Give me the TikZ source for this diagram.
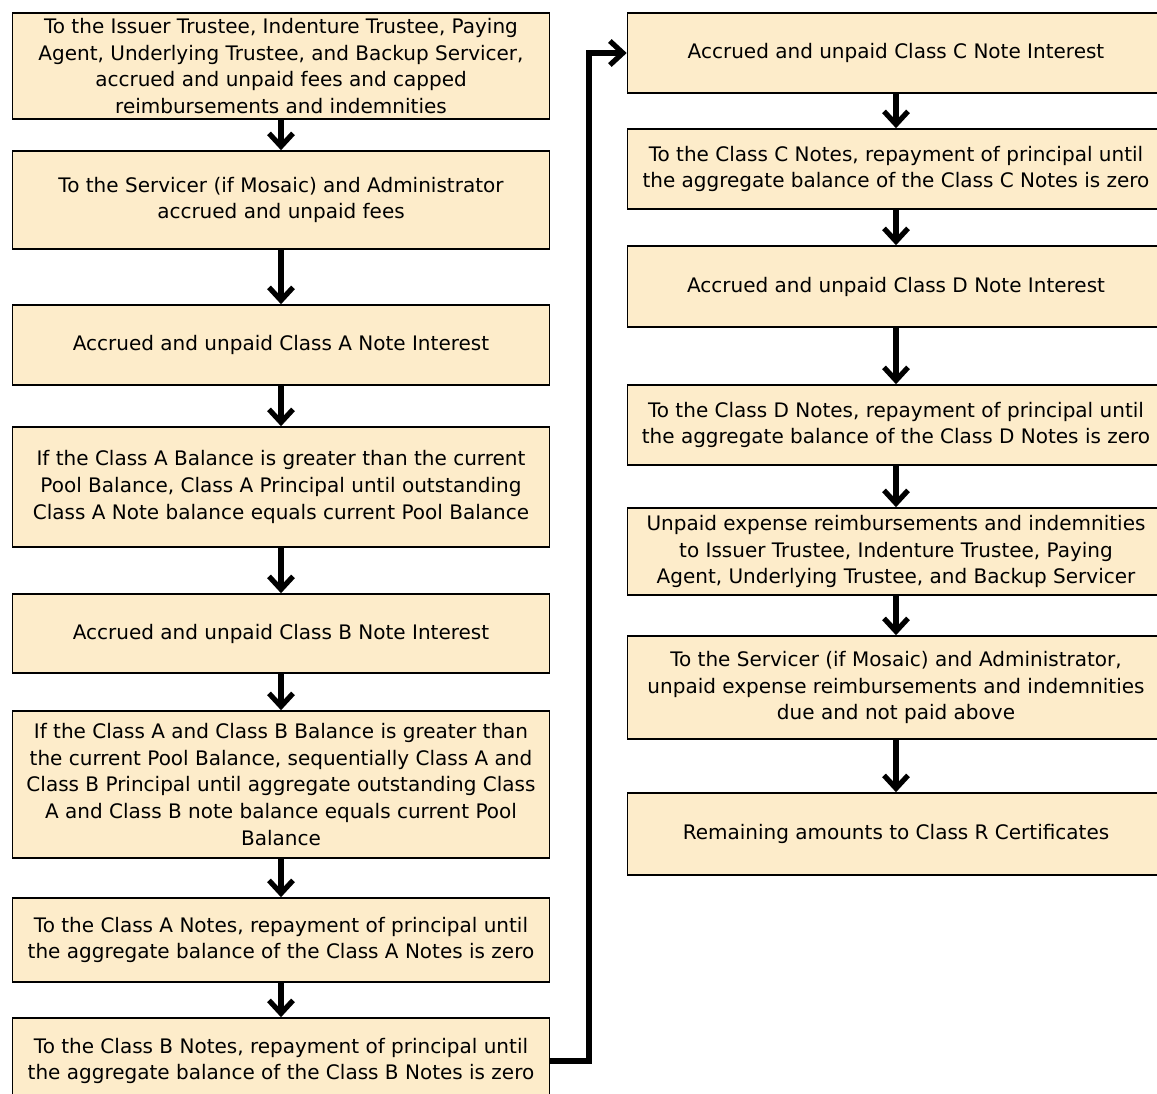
\documentclass[tikz,border=0pt]{standalone}
\usepackage{fontspec}
\setmainfont{DejaVu Sans}
\usetikzlibrary{arrows.meta}
\definecolor{boxfill}{RGB}{253,236,202}
\tikzset{
  box/.style={draw=black, line width=1.6pt, fill=boxfill, minimum width=537pt,
    align=center, inner sep=0pt, font=\fontsize{20}{26.8}\selectfont},
  flow/.style={line width=5.2pt, -{Straight Barb[length=13pt,width=24pt]}}
}
\begin{document}
\begin{tikzpicture}[x=1pt,y=-1pt]
\clip (0,0) rectangle (1157,1093);
\fill[white] (0,0) rectangle (1157,1093);
% left column
\node[box, minimum height=106pt] (b1) at (281,66) {To the Issuer Trustee, Indenture Trustee, Paying\\Agent, Underlying Trustee, and Backup Servicer,\\accrued and unpaid fees and capped\\reimbursements and indemnities};
\node[box, minimum height=98pt] (b2) at (281,200) {To the Servicer (if Mosaic) and Administrator\\accrued and unpaid fees};
\node[box, minimum height=80pt] (b3) at (281,345) {Accrued and unpaid Class A Note Interest};
\node[box, minimum height=120pt] (b4) at (281,487) {If the Class A Balance is greater than the current\\Pool Balance, Class A Principal until outstanding\\Class A Note balance equals current Pool Balance};
\node[box, minimum height=79pt] (b5) at (281,633.5) {Accrued and unpaid Class B Note Interest};
\node[box, minimum height=147pt] (b6) at (281,784.5) {If the Class A and Class B Balance is greater than\\the current Pool Balance, sequentially Class A and\\Class B Principal until aggregate outstanding Class\\A and Class B note balance equals current Pool\\Balance};
\node[box, minimum height=84pt] (b7) at (281,940) {To the Class A Notes, repayment of principal until\\the aggregate balance of the Class A Notes is zero};
\node[box, minimum height=86pt] (b8) at (281,1061) {To the Class B Notes, repayment of principal until\\the aggregate balance of the Class B Notes is zero};
% right column
\node[box, minimum height=80pt] (c1) at (896,53) {Accrued and unpaid Class C Note Interest};
\node[box, minimum height=80pt] (c2) at (896,169) {To the Class C Notes, repayment of principal until\\the aggregate balance of the Class C Notes is zero};
\node[box, minimum height=81pt] (d1) at (896,286.5) {Accrued and unpaid Class D Note Interest};
\node[box, minimum height=80pt] (d2) at (896,425) {To the Class D Notes, repayment of principal until\\the aggregate balance of the Class D Notes is zero};
\node[box, minimum height=87pt] (e1) at (896,551.5) {Unpaid expense reimbursements and indemnities\\to Issuer Trustee, Indenture Trustee, Paying\\Agent, Underlying Trustee, and Backup Servicer};
\node[box, minimum height=103pt] (f1) at (896,687.5) {To the Servicer (if Mosaic) and Administrator,\\unpaid expense reimbursements and indemnities\\due and not paid above};
\node[box, minimum height=82pt] (r1) at (896,834) {Remaining amounts to Class R Certificates};
% connectors
\draw[flow] (b1) -- (b2);
\draw[flow] (b2) -- (b3);
\draw[flow] (b3) -- (b4);
\draw[flow] (b4) -- (b5);
\draw[flow] (b5) -- (b6);
\draw[flow] (b6) -- (b7);
\draw[flow] (b7) -- (b8);
\coordinate (bend) at (589,53);
\draw[flow] (b8.east) -| (bend) -- (c1.west);
\draw[flow] (c1) -- (c2);
\draw[flow] (c2) -- (d1);
\draw[flow] (d1) -- (d2);
\draw[flow] (d2) -- (e1);
\draw[flow] (e1) -- (f1);
\draw[flow] (f1) -- (r1);
\end{tikzpicture}
\end{document}
